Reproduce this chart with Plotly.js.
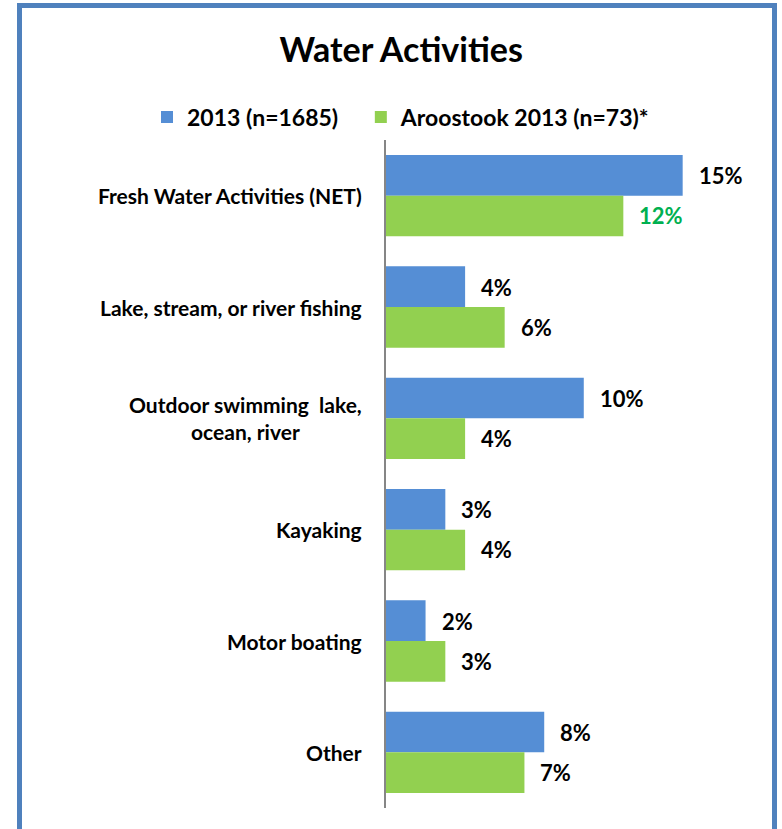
<!DOCTYPE html>
<html>
<head>
<meta charset="utf-8">
<script src="https://cdn.plot.ly/plotly-3.0.1.min.js"></script>
<style>
  html, body { margin: 0; padding: 0; background: #fff; }
  #wrap { position: relative; width: 782px; height: 829px; overflow: hidden; }
  #frame { position: absolute; left: 17px; top: 3px; width: 760px; height: 840px;
           border: 5px solid #4F81BD; box-sizing: border-box; pointer-events: none; }
  #chart { position: absolute; left: 0; top: 0; width: 782px; height: 829px; }
</style>
</head>
<body>
<div id="wrap">
  <div id="chart"></div>
  <div id="frame"></div>
</div>
<script>
const categories = [
  "Fresh Water Activities (NET)",
  "Lake, stream, or river fishing",
  "Outdoor swimming  lake,<br>ocean, river",
  "Kayaking",
  "Motor boating",
  "Other"
];
const series2013 = [15, 4, 10, 3, 2, 8];
const seriesAroostook = [12, 6, 4, 4, 3, 7];
const seriesNames = ["2013 (n=1685)", "Aroostook 2013 (n=73)*"];
const seriesColors = ["#558ED5", "#92D050"];
const labelColors2013 = ["#000000", "#000000", "#000000", "#000000", "#000000", "#000000"];
const labelColorsAroostook = ["#00B050", "#000000", "#000000", "#000000", "#000000", "#000000"];

const FONT = "Lato, 'Open Sans', sans-serif";
const NBSP = "\u00a0\u00a0\u00a0";

const traces = [
  { type: "bar", orientation: "h", name: "<b>" + seriesNames[0] + "</b>" + NBSP, y: categories, x: series2013,
    marker: { color: seriesColors[0] }, hoverinfo: "none" },
  { type: "bar", orientation: "h", name: "<b>" + seriesNames[1] + "</b>", y: categories, x: seriesAroostook,
    marker: { color: seriesColors[1] }, hoverinfo: "none" }
];

const annotations = [];
categories.forEach((c, i) => {
  annotations.push({ x: 0, y: c, xref: "x", yref: "y", text: "<b>" + c + "</b>",
    showarrow: false, xanchor: "right", align: "center", xshift: -22,
    font: { family: FONT, size: 21, color: "#000" } });
  annotations.push({ x: series2013[i], y: c, xref: "x", yref: "y", text: "<b>" + series2013[i] + "%</b>",
    showarrow: false, xanchor: "left", xshift: 14, yshift: 20,
    font: { family: FONT, size: 22, color: labelColors2013[i] } });
  annotations.push({ x: seriesAroostook[i], y: c, xref: "x", yref: "y", text: "<b>" + seriesAroostook[i] + "%</b>",
    showarrow: false, xanchor: "left", xshift: 14, yshift: -20,
    font: { family: FONT, size: 22, color: labelColorsAroostook[i] } });
});

const layout = {
  width: 782, height: 829,
  margin: { l: 0, r: 0, t: 140, b: 21, autoexpand: false },
  paper_bgcolor: "#fff", plot_bgcolor: "#fff",
  barmode: "group", bargap: 0.27, bargroupgap: 0,
  title: { text: "<b>Water Activities</b>", x: 0.513, xref: "container", xanchor: "center",
           y: 1 - 50/829, yref: "container", yanchor: "middle",
           font: { family: FONT, size: 34, color: "#000" } },
  showlegend: true,
  legend: { orientation: "h", xref: "paper", yref: "container",
            x: 147/782, xanchor: "left", y: 1 - 117/829, yanchor: "middle",
            font: { family: FONT, size: 23, color: "#000" }, traceorder: "normal",
            bgcolor: "rgba(0,0,0,0)" },
  xaxis: { domain: [386/782, 742/782], range: [0, 18], visible: false, fixedrange: true },
  yaxis: { type: "category", autorange: "reversed", showticklabels: false, ticks: "",
           showline: true, linecolor: "#868686", linewidth: 2, showgrid: false, zeroline: false },
  annotations: annotations
};

Plotly.newPlot("chart", traces, layout, { displayModeBar: false, staticPlot: true });
</script>
</body>
</html>
